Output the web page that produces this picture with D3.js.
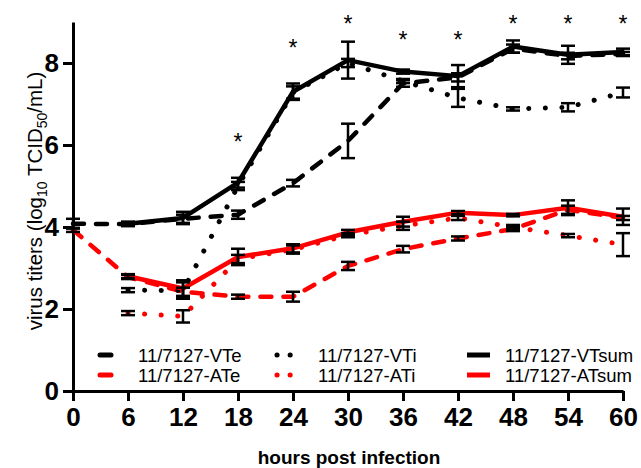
<!DOCTYPE html>
<html>
<head>
<meta charset="utf-8">
<script src="https://cdn.jsdelivr.net/npm/d3@7"></script>
<style>
  body { margin: 0; background: #fff; }
  svg { display: block; font-family: "Liberation Sans", Arial, sans-serif; }
</style>
</head>
<body>
<div id="chart"></div>
<script>
// hours post infection
var hours = [0, 6, 12, 18, 24, 30, 36, 42, 48, 54, 60];

// log10 TCID50/mL, null = not measured
var vte    = [4.08, 4.07, 4.2, 4.3, 5.07, 6.1, 7.5, 7.65, 8.35, 8.17, 8.22];
var vteErr = [0.12, 0.05, 0.1, 0.1, 0.08, 0.42, 0.08, 0.1, 0.1, 0.08, 0.05];
var vti    = [null, 2.46, 2.45, 5.0, 7.28, 8.0, 7.56, 7.15, 6.88, 6.92, 7.28];
var vtiErr = [null, 0.05, 0.2, 0.1, 0.15, 0.1, 0.05, 0.22, 0.04, 0.1, 0.12];
var vts    = [null, 4.08, 4.22, 5.08, 7.3, 8.07, 7.79, 7.68, 8.4, 8.2, 8.27];
var vtsErr = [null, 0.05, 0.15, 0.12, 0.2, 0.45, 0.05, 0.27, 0.15, 0.22, 0.08];

var ate    = [3.93, 2.78, 2.42, 2.3, 2.3, 3.05, 3.46, 3.72, 3.95, 4.42, 4.22];
var ateErr = [0.05, 0.05, 0.1, 0.05, 0.12, 0.1, 0.08, 0.05, 0.05, 0.1, 0.05];
var ati    = [null, 1.9, 1.82, 3.22, 3.45, 3.8, 4.03, 4.22, 4.0, 3.79, 3.57];
var atiErr = [null, 0.05, 0.15, 0.1, 0.1, 0.05, 0.1, 0.05, 0.05, 0.04, 0.28];
var ats    = [null, 2.8, 2.5, 3.27, 3.48, 3.87, 4.13, 4.35, 4.29, 4.47, 4.25];
var atsErr = [null, 0.05, 0.2, 0.2, 0.1, 0.06, 0.12, 0.04, 0.03, 0.18, 0.2];

// height of the significance asterisks
var stars = [null, null, null, 6.2, 8.49, 9.07, 8.68, 8.68, 9.07, 9.07, 9.07];

var yTicks = [0, 2, 4, 6, 8];

var series = [
  { name: '11/7127-VTe',   v: vte, e: vteErr, color: '#000', dash: '11 12' },
  { name: '11/7127-ATe',   v: ate, e: ateErr, color: '#ff0000', dash: '11 12' },
  { name: '11/7127-VTi',   v: vti, e: vtiErr, color: '#000', dash: '0.1 16.5' },
  { name: '11/7127-ATi',   v: ati, e: atiErr, color: '#ff0000', dash: '0.1 16.5' },
  { name: '11/7127-VTsum', v: vts, e: vtsErr, color: '#000', dash: null },
  { name: '11/7127-ATsum', v: ats, e: atsErr, color: '#ff0000', dash: null }
];

var width = 641, height = 468;

var svg = d3.select('#chart').append('svg')
  .attr('width', width)
  .attr('height', height);

var x = d3.scaleLinear().domain([0, 60]).range([73, 623]);
var y = d3.scaleLinear().domain([0, 9]).range([391, 22]);

// axes
var yAxis = svg.append('g')
  .attr('transform', 'translate(73,0)')
  .call(d3.axisLeft(y).tickValues(yTicks).tickSize(10).tickSizeOuter(0).tickPadding(4));
var xAxis = svg.append('g')
  .attr('transform', 'translate(0,391)')
  .call(d3.axisBottom(x).tickValues(hours).tickSize(10).tickSizeOuter(0).tickPadding(7));

[xAxis, yAxis].forEach(function(g) {
  g.select('.domain').attr('stroke-width', 3).attr('stroke', '#000');
  g.selectAll('.tick line').attr('stroke-width', 3).attr('stroke', '#000');
  g.selectAll('.tick text')
    .attr('fill', '#000')
    .style('font-size', '26px')
    .style('font-weight', 'bold')
    .style('font-family', '"Liberation Sans", Arial, sans-serif');
});

// lines
var line = d3.line()
  .defined(function(d) { return d[1] != null; })
  .x(function(d) { return x(d[0]); })
  .y(function(d) { return y(d[1]); });

series.forEach(function(s) {
  svg.append('path')
    .datum(hours.map(function(h, i) { return [h, s.v[i]]; }))
    .attr('fill', 'none')
    .attr('stroke', s.color)
    .attr('stroke-width', s.dash && s.dash.indexOf('0.1') === 0 ? 5 : 4.5)
    .attr('stroke-linecap', s.dash ? 'round' : 'butt')
    .attr('stroke-linejoin', 'round')
    .attr('stroke-dasharray', s.dash)
    .attr('d', line);
});

// error bars (all black)
var bars = svg.append('g').attr('stroke', '#000').attr('stroke-width', 2.5);
series.forEach(function(s) {
  hours.forEach(function(h, i) {
    if (s.v[i] == null) return;
    var cx = x(h), top = y(s.v[i] + s.e[i]), bot = y(s.v[i] - s.e[i]);
    bars.append('line').attr('x1', cx).attr('x2', cx).attr('y1', top).attr('y2', bot);
    bars.append('line').attr('x1', cx - 7).attr('x2', cx + 7).attr('y1', top).attr('y2', top);
    bars.append('line').attr('x1', cx - 7).attr('x2', cx + 7).attr('y1', bot).attr('y2', bot);
  });
});

// asterisks
svg.selectAll('text.star')
  .data(hours.filter(function(h, i) { return stars[i] != null; }))
  .enter().append('text')
  .attr('class', 'star')
  .attr('x', function(h) { return x(h); })
  .attr('y', function(h) { return y(stars[hours.indexOf(h)]) + 13; })
  .attr('text-anchor', 'middle')
  .style('font-size', '23px')
  .text('*');

// legend
var legendPos = [
  { x: 97, y: 355 }, { x: 97, y: 375 },
  { x: 277, y: 355 }, { x: 277, y: 375 },
  { x: 467, y: 355 }, { x: 467, y: 375 }
];
series.forEach(function(s, i) {
  var p = legendPos[i];
  var len = s.dash ? (s.dash.indexOf('0.1') === 0 ? 18 : 11) : 23;
  var off = s.dash && s.dash.indexOf('0.1') !== 0 ? 3 : 0;
  svg.append('line')
    .attr('x1', p.x + off).attr('x2', p.x + off + len)
    .attr('y1', p.y).attr('y2', p.y)
    .attr('stroke', s.color)
    .attr('stroke-width', 5)
    .attr('stroke-linecap', s.dash ? 'round' : 'butt')
    .attr('stroke-dasharray', s.dash && s.dash.indexOf('0.1') === 0 ? '0.1 13' : null);
  svg.append('text')
    .attr('x', p.x + (i < 4 ? 41 : 38))
    .attr('y', p.y + 7)
    .style('font-size', '18.5px')
    .text(s.name);
});

// axis titles
svg.append('text')
  .attr('x', 349).attr('y', 464)
  .attr('text-anchor', 'middle')
  .style('font-size', '19px')
  .style('font-weight', 'bold')
  .text('hours post infection');

var yt = svg.append('text')
  .attr('transform', 'translate(42,201) rotate(-90)')
  .attr('text-anchor', 'middle')
  .style('font-size', '20.5px');
yt.append('tspan').text('virus titers (log');
yt.append('tspan').attr('dy', 5).style('font-size', '14px').text('10');
yt.append('tspan').attr('dy', -5).text(' TCID');
yt.append('tspan').attr('dy', 5).style('font-size', '14px').text('50');
yt.append('tspan').attr('dy', -5).text('/mL)');
</script>
</body>
</html>
